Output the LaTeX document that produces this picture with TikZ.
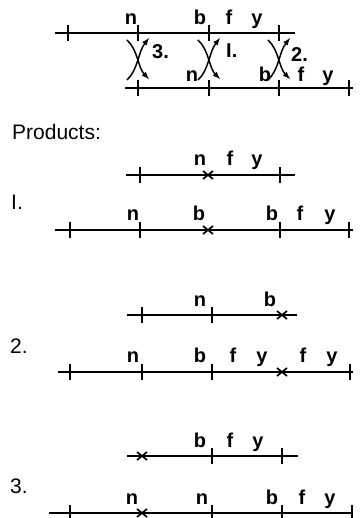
\documentclass[tikz,border=0pt]{standalone}
\usepackage{fontspec}
\setmainfont{Liberation Sans}
\tikzset{>=latex}
\tikzset{
  chromosome/.style={line width=1.7pt},
  locus/.style={line width=1.8pt},
  breakpoint/.style={line width=1.7pt},
  exchange/.style={->,line width=1.5pt},
  gene/.style={anchor=base,inner sep=0pt,font=\fontsize{20}{22}\selectfont\bfseries},
  heading/.style={anchor=base west,inner sep=0pt,font=\fontsize{21}{24}\selectfont},
  crossover/.pic={
    \draw[exchange] (-11,-20) .. controls (0,-10) and (0,8) .. (11,19);
    \draw[exchange] (-11,20) .. controls (0,10) and (0,-8) .. (11,-22);
  }
}
\newcommand{\loci}[2]{\foreach \x in {#1} \draw[locus] (\x,#2-8) -- (\x,#2+8);}
\newcommand{\breaks}[2]{\foreach \x in {#1} \draw[breakpoint] (\x-5,#2-4) -- (\x+5,#2+4) (\x-5,#2+4) -- (\x+5,#2-4);}

\begin{document}
\begin{tikzpicture}[x=1pt,y=-1pt]
  \useasboundingbox (0,0) rectangle (359,518);
  % parental chromosomes
  \draw[chromosome] (55,33) -- (295,33);
  \loci{68,138,209,279}{33}
  \node[gene] (pn) at (131,25) {n};
  \node[gene] (pb) at (200,25) {b};
  \node[gene] (pf) at (229,25) {f};
  \node[gene] (py) at (257,25) {y};
  \draw[chromosome] (125,88) -- (353,88);
  \loci{138,209,279,349}{88}
  \node[gene] (qn) at (192,82) {n};
  \node[gene] (qb) at (265,82) {b};
  \node[gene] (qf) at (301,82) {f};
  \node[gene] (qy) at (328,82) {y};
  % exchanges
  \pic at (138,60) {crossover};
  \pic at (209,60) {crossover};
  \pic at (279,60) {crossover};
  \node[gene,anchor=west] (x3) at (152,52) {3.};
  \node[gene,anchor=west] (x1) at (226,51) {I.};
  \node[gene,anchor=west] (x2) at (291,55) {2.};

  \node[heading] (products) at (12,140) {Products:};

  % product 1
  \draw[chromosome] (126,175) -- (295,175);
  \loci{140,280}{175}
  \breaks{208}{175}
  \node[gene] (an) at (200,166) {n};
  \node[gene] (af) at (230,166) {f};
  \node[gene] (ay) at (257,166) {y};
  \node[heading] (one) at (11,210) {I.};
  \draw[chromosome] (55,230) -- (353,230);
  \loci{70,140,280,349}{230}
  \breaks{208}{230}
  \node[gene] (bn) at (133,221) {n};
  \node[gene] (bb) at (199,221) {b};
  \node[gene] (bb2) at (272,221) {b};
  \node[gene] (bf) at (300,221) {f};
  \node[gene] (by) at (330,221) {y};

  % product 2
  \draw[chromosome] (127,315) -- (297,315);
  \loci{142,212}{315}
  \breaks{282}{315}
  \node[gene] (cn) at (200,306) {n};
  \node[gene] (cb) at (270,306) {b};
  \node[heading] (two) at (10,353) {2.};
  \draw[chromosome] (58,372) -- (353,372);
  \loci{70,142,212,350}{372}
  \breaks{282}{372}
  \node[gene] (dn) at (133,362) {n};
  \node[gene] (db) at (200,362) {b};
  \node[gene] (df) at (233,362) {f};
  \node[gene] (dy) at (262,362) {y};
  \node[gene] (df2) at (303,362) {f};
  \node[gene] (dy2) at (332,362) {y};

  % product 3
  \draw[chromosome] (127,456) -- (298,456);
  \loci{212,282}{456}
  \breaks{142}{456}
  \node[gene] (eb) at (200,447) {b};
  \node[gene] (ef) at (230,447) {f};
  \node[gene] (ey) at (258,447) {y};
  \node[heading] (three) at (10,493) {3.};
  \draw[chromosome] (49,513) -- (353,513);
  \loci{70,212,282,352}{513}
  \breaks{142}{513}
  \node[gene] (fn) at (132,504) {n};
  \node[gene] (fn2) at (202,504) {n};
  \node[gene] (fb) at (272,504) {b};
  \node[gene] (ff) at (302,504) {f};
  \node[gene] (fy) at (330,504) {y};
\end{tikzpicture}
\end{document}
